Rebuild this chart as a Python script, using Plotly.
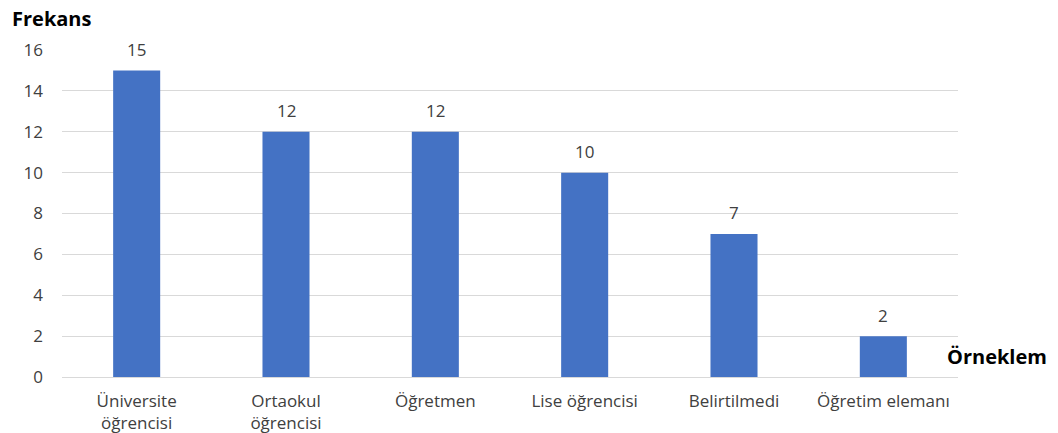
import plotly.graph_objects as go

categories = ["Üniversite<br>öğrencisi", "Ortaokul<br>öğrencisi", "Öğretmen",
              "Lise öğrencisi", "Belirtilmedi", "Öğretim elemanı"]
values = [15, 12, 12, 10, 7, 2]
y_ticks = [0, 2, 4, 6, 8, 10, 12, 14, 16]

font_family = "Open Sans, Noto Sans, Liberation Sans, sans-serif"

fig = go.Figure(go.Bar(
    x=categories, y=values,
    marker=dict(color="#4472C4", line=dict(width=0)),
    width=0.315,
))

for c, v in zip(categories, values):
    fig.add_annotation(x=c, y=v, text=str(v), showarrow=False,
                       yshift=21, font=dict(size=17, color="#404040", family=font_family))

fig.add_annotation(xref="paper", yref="paper", x=-0.058, y=1.0, yshift=32,
                   xanchor="left", yanchor="middle", text="<b>Frekans</b>",
                   showarrow=False, font=dict(size=20, color="#000000", family=font_family))
fig.add_annotation(xref="paper", yref="paper", x=0.985, y=0.062,
                   xanchor="left", yanchor="middle", text="<b>Örneklem</b>",
                   showarrow=False, font=dict(size=20, color="#000000", family=font_family))

fig.update_layout(
    width=1058, height=433,
    margin=dict(l=62, r=100, t=50, b=56),
    plot_bgcolor="white", paper_bgcolor="white",
    showlegend=False,
    bargap=0.685,
    xaxis=dict(showgrid=False, showline=False, ticks="", ticklabelstandoff=12,
               automargin=False,
               tickfont=dict(size=17, color="#404040", family=font_family)),
    yaxis=dict(range=[0, 16], tickvals=y_ticks, showgrid=True, gridcolor="#d9d9d9",
               gridwidth=1, zeroline=True, zerolinecolor="#d9d9d9", zerolinewidth=1,
               showline=False, ticks="", ticklabelstandoff=18, automargin=False,
               tickfont=dict(size=17, color="#404040", family=font_family)),
)

fig.write_html("out.html")
